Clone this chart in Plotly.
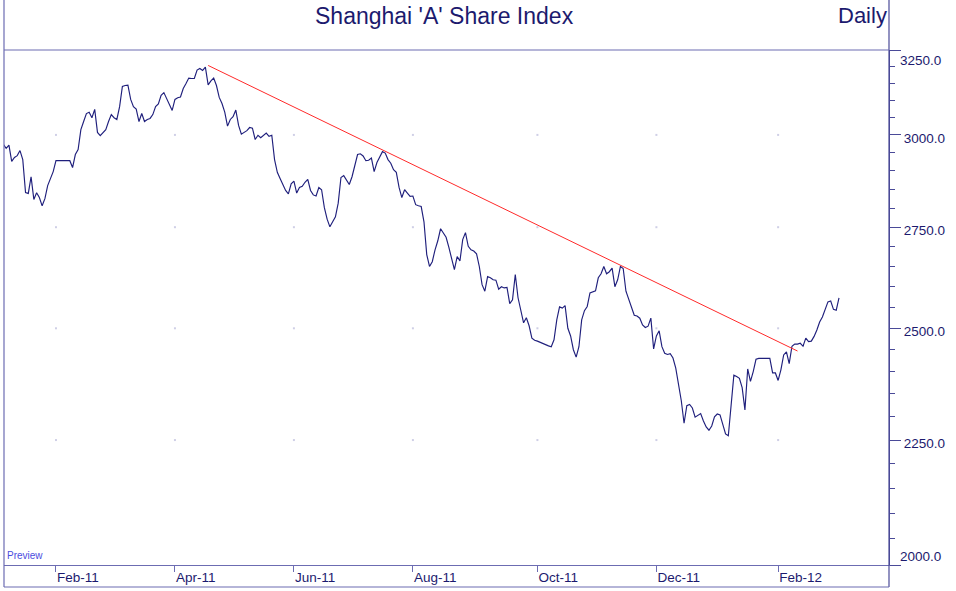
import math
import pandas as pd
import plotly.graph_objects as go

# ---- data ----
dates = pd.bdate_range("2011-01-05", "2012-03-02")  # weekday sessions
close = [
    2973, 2962, 2971, 2926, 2937, 2942, 2956, 2931, 2841, 2839,
    2884, 2823, 2841, 2828, 2806, 2825, 2860, 2882, 2898, 2928,
    2928, 2928, 2928, 2928, 2928, 2909, 2945, 2959, 3015, 3038,
    3061, 3065, 3049, 3073, 3007, 2998, 3007, 3015, 3038, 3058,
    3049, 3044, 3081, 3140, 3143, 3144, 3102, 3081, 3074, 3038,
    3061, 3038, 3044, 3047, 3058, 3081, 3089, 3114, 3122, 3105,
    3090, 3070, 3102, 3107, 3109, 3134, 3149, 3165, 3164, 3164,
    3189, 3194, 3188, 3198, 3145, 3157, 3165, 3143, 3108, 3090,
    3065, 3025, 3044, 3052, 3071, 3027, 3002, 3007, 3012, 3021,
    3019, 2987, 2999, 2992, 2998, 3005, 2996, 2999, 2931, 2896,
    2879, 2864, 2847, 2838, 2865, 2872, 2840, 2855, 2858, 2869,
    2877, 2847, 2835, 2832, 2855, 2849, 2801, 2771, 2751, 2764,
    2777, 2813, 2882, 2887, 2874, 2863, 2884, 2912, 2945, 2947,
    2941, 2928, 2929, 2935, 2898, 2923, 2937, 2953, 2949, 2931,
    2921, 2903, 2896, 2855, 2828, 2849, 2840, 2831, 2832, 2809,
    2806, 2804, 2764, 2680, 2650, 2662, 2692, 2715, 2746, 2736,
    2724, 2698, 2667, 2642, 2675, 2664, 2718, 2736, 2701, 2692,
    2689, 2682, 2650, 2605, 2589, 2625, 2622, 2617, 2616, 2594,
    2600, 2597, 2598, 2559, 2568, 2630, 2573, 2544, 2513, 2525,
    2506, 2477, 2472, 2470, 2467, 2464, 2461, 2459, 2457, 2473,
    2520, 2551, 2548, 2554, 2500, 2482, 2450, 2433, 2457, 2520,
    2542, 2552, 2585, 2587, 2590, 2622, 2632, 2650, 2632, 2637,
    2646, 2600, 2617, 2650, 2645, 2589, 2571, 2549, 2531, 2529,
    2524, 2508, 2502, 2505, 2524, 2452, 2482, 2494, 2457, 2442,
    2439, 2441, 2431, 2408, 2375, 2335, 2286, 2324, 2327, 2319,
    2299, 2303, 2307, 2291, 2278, 2271, 2280, 2300, 2306, 2304,
    2283, 2263, 2259, 2333, 2392, 2389, 2385, 2364, 2315, 2406,
    2378, 2400, 2428, 2430, 2430, 2430, 2430, 2430, 2397, 2397,
    2380, 2404, 2438, 2445, 2418, 2458, 2463, 2463, 2465, 2458,
    2477, 2469, 2470, 2481, 2496, 2515, 2527, 2546, 2563, 2565,
    2545, 2543, 2573,
]
n = min(len(dates), len(close))
dates = dates[:n]
close = close[:n]

trend_dates = ["2011-04-19", "2012-02-10"]
trend_values = [3203, 2447]

month_ticks = ["2011-02-01", "2011-04-01", "2011-06-01", "2011-08-01",
               "2011-10-03", "2011-12-01", "2012-02-01"]
month_labels = ["Feb-11", "Apr-11", "Jun-11", "Aug-11", "Oct-11", "Dec-11", "Feb-12"]

y_major = [2000, 2250, 2500, 2750, 3000, 3250]
y_labels = ["", "2250.0", "2500.0", "2750.0", "3000.0", ""]
y_minor = [v for v in range(2050, 3250, 50) if v not in y_major]
grid_levels = [2250, 2500, 2750, 3000]

title_text = "Shanghai 'A' Share Index"
period_text = "Daily"
top_label = "3250.0"
bottom_label = "2000.0"
source_text = "Preview"

# ---- style ----
FONT = "Liberation Sans, Arial, Helvetica, sans-serif"
NAVY = "#1c1a6e"
LINE = "#1f1f7c"
FRAME = "#6c6cb2"
AXIS = "#4a4a98"

W, H = 956, 591
L, R, T, B = 4, 67, 50, 26
ph = H - T - B
YRANGE = [math.log10(2000), math.log10(3250)]


def py(pix):
    return (H - B - pix) / ph


fig = go.Figure()

gx = [d for d in month_ticks for _ in grid_levels]
gy = [v for _ in month_ticks for v in grid_levels]
# faint grid dots (on the overlay axis that carries the minor ticks)
fig.add_trace(go.Scatter(x=gx, y=gy, mode="markers", yaxis="y2",
                         marker=dict(size=2, color="#cfcfe6", symbol="square"),
                         hoverinfo="skip"))

fig.add_trace(go.Scatter(x=dates, y=close, mode="lines",
                         line=dict(color=LINE, width=1.15)))

fig.add_trace(go.Scatter(x=trend_dates, y=trend_values, mode="lines",
                         line=dict(color="#ff2a2a", width=1)))

fig.update_layout(
    width=W, height=H,
    margin=dict(l=L, r=R, t=T, b=B),
    paper_bgcolor="white", plot_bgcolor="white",
    showlegend=False,
    font=dict(family=FONT, color=NAVY),
    xaxis=dict(
        type="date",
        range=["2011-01-05 05:12", "2012-03-28 01:40"],
        rangebreaks=[dict(bounds=["sat", "mon"])],
        tickmode="array", tickvals=month_ticks, ticktext=month_labels,
        ticks="outside", ticklen=6, tickcolor=FRAME, tickwidth=1,
        ticklabelposition="outside right",
        tickfont=dict(family=FONT, size=13.5, color=NAVY),
        showgrid=False, zeroline=False,
        showline=True, linecolor=FRAME, linewidth=1,
    ),
    yaxis=dict(
        type="log", side="right", range=YRANGE,
        tickmode="array", tickvals=y_major, ticktext=y_labels,
        ticks="outside", ticklen=11, tickcolor=AXIS, tickwidth=1,
        ticklabelshift=3,
        tickfont=dict(family=FONT, size=13.5, color=NAVY),
        showgrid=False, zeroline=False,
        showline=True, linecolor=AXIS, linewidth=1.2,
    ),
    yaxis2=dict(
        type="log", side="right", overlaying="y", range=YRANGE,
        tickmode="array", tickvals=y_minor,
        ticks="outside", ticklen=5, tickcolor=AXIS, tickwidth=1,
        showticklabels=False, showgrid=False, zeroline=False, showline=False,
    ),
)

frame = dict(type="line", xref="paper", yref="paper", line=dict(color=FRAME, width=1.2))
fig.add_shape(**frame, x0=0, x1=0, y0=py(587), y1=py(0))
fig.add_shape(type="line", xref="paper", yref="paper", line=dict(color=AXIS, width=1.2),
              x0=1, x1=1, y0=py(587), y1=py(0))
fig.add_shape(**frame, x0=0, x1=1, y0=py(587), y1=py(587))
fig.add_shape(**frame, x0=0, x1=1, y0=1, y1=1)

fig.add_annotation(text=title_text, xref="paper", yref="paper",
                   x=(444 - L) / (W - L - R), y=py(16), xanchor="center", yanchor="middle",
                   showarrow=False, font=dict(family=FONT, size=23, color=NAVY))
fig.add_annotation(text=period_text, xref="paper", yref="paper",
                   x=1, y=py(16), xanchor="right", yanchor="middle",
                   showarrow=False, font=dict(family=FONT, size=22, color=NAVY))
fig.add_annotation(text=top_label, xref="paper", yref="paper",
                   x=(898 - L) / (W - L - R), y=py(60), xanchor="left", yanchor="middle",
                   showarrow=False, font=dict(family=FONT, size=13.5, color=NAVY))
fig.add_annotation(text=bottom_label, xref="paper", yref="paper",
                   x=(898 - L) / (W - L - R), y=py(556), xanchor="left", yanchor="middle",
                   showarrow=False, font=dict(family=FONT, size=13.5, color=NAVY))
fig.add_annotation(text=source_text, xref="paper", yref="paper",
                   x=(5 - L) / (W - L - R), y=py(555), xanchor="left", yanchor="middle",
                   showarrow=False, font=dict(family=FONT, size=10, color="#4c4ce0"))

fig.write_html("out.html",
               config={"displayModeBar": False},
               post_script="document.body.style.margin='0';document.body.style.overflow='hidden';")
